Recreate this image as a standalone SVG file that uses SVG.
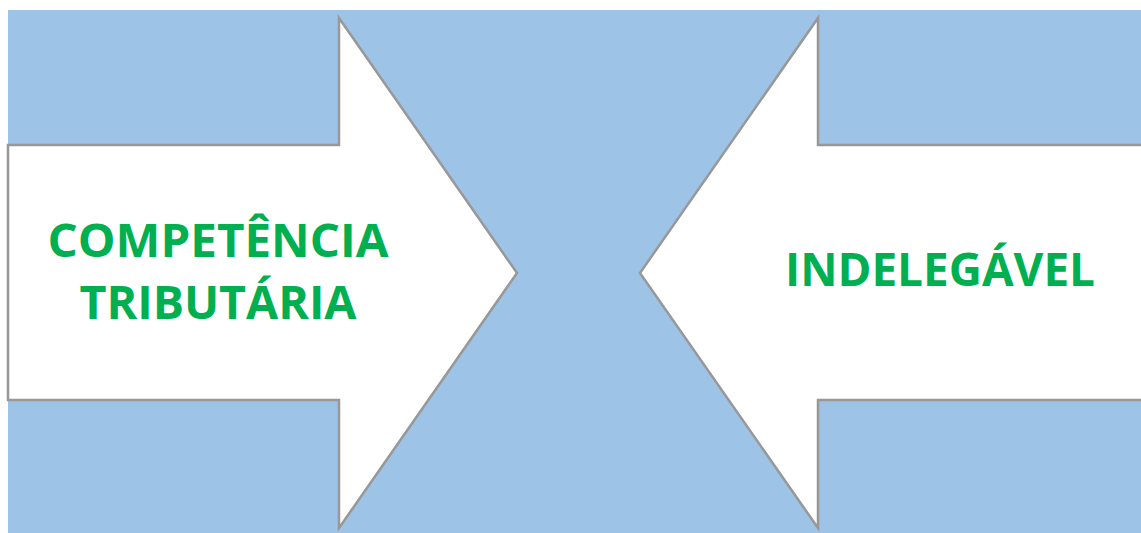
<svg xmlns="http://www.w3.org/2000/svg" width="1141" height="533" viewBox="0 0 1141 533">
<style>
.arrow{fill:#ffffff;stroke:#989898;stroke-width:2.5;stroke-linejoin:miter}
.lbl{font-family:"Open Sans","Liberation Sans",sans-serif;font-weight:bold;font-size:46px;fill:#00B050;text-anchor:middle}
</style>
<rect x="8" y="10" width="1133" height="523" fill="#9DC3E6"/>
<g id="arrow-left">
<polygon class="arrow" points="8,145 339,145 339,18 517,273 339,528 339,400 8,400"/>
<text class="lbl" x="218" y="257" textLength="341" lengthAdjust="spacingAndGlyphs">COMPETÊNCIA</text>
<text class="lbl" x="218" y="319" textLength="277" lengthAdjust="spacingAndGlyphs">TRIBUTÁRIA</text>
</g>
<g id="arrow-right">
<polygon class="arrow" points="1150,145 818,145 818,18 640,273 818,528 818,400 1150,400"/>
<text class="lbl" x="940" y="286" textLength="310" lengthAdjust="spacingAndGlyphs">INDELEGÁVEL</text>
</g>
<g id="connectors"/>
</svg>
